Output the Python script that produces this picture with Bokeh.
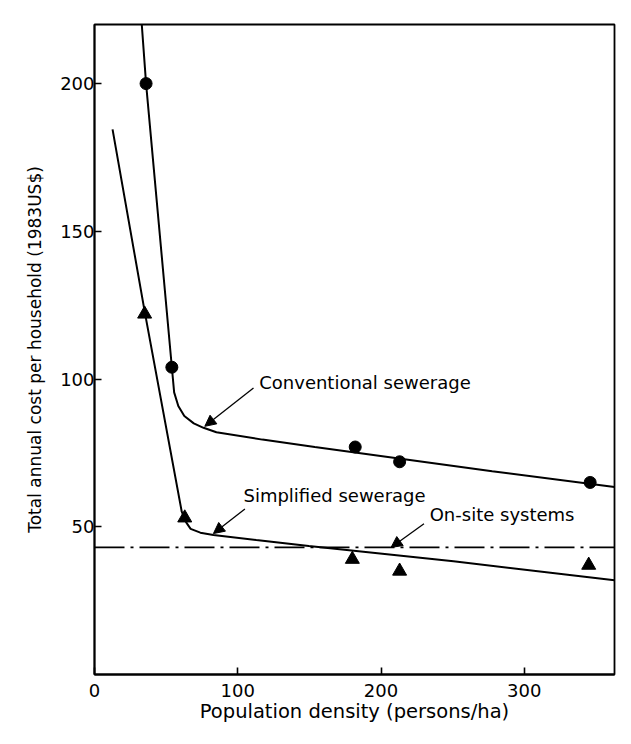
from bokeh.plotting import figure
from bokeh.models import Range1d, FixedTicker, Label, Arrow, NormalHead
from bokeh.embed import file_html
from bokeh.resources import INLINE

# ---- data ----
density_ticks = [0, 100, 200, 300]
cost_ticks = [50, 100, 150, 200]

# observed points
conv_obs_density = [36, 54, 182, 213, 346]
conv_obs_cost = [200, 104, 77, 72, 65]

simp_obs_density = [35, 63, 180, 213, 345]
simp_obs_cost = [122, 53, 39, 35, 37]

# fitted curves
conv_curve_density = [33, 36, 54, 55.6, 58.5, 62.7, 69.3, 76.1, 85.1, 117.2, 153.8, 277.6, 363]
conv_curve_cost = [220, 200, 104, 95.5, 90.9, 87.5, 85.0, 83.5, 82.0, 79.5, 77.0, 68.8, 63.5]

simp_curve_density = [12.6, 35.2, 60.9, 64.0, 67.1, 73.9, 83.0, 112.9, 149.6, 250.6, 363]
simp_curve_cost = [184.5, 122.4, 55.1, 51.5, 49.3, 48.0, 47.2, 45.5, 43.5, 38.3, 31.9]

onsite_density = [0, 363]
onsite_cost = [43, 43]

series_labels = ["Conventional sewerage", "Simplified sewerage", "On-site systems"]

FONT = "DejaVu Sans"

p = figure(frame_width=520, frame_height=650,
           x_range=Range1d(0, 363), y_range=Range1d(0, 220),
           output_backend="svg", toolbar_location=None,
           min_border_left=94, min_border_right=9, min_border_top=24, min_border_bottom=58)

p.xgrid.visible = False
p.ygrid.visible = False
p.outline_line_color = "black"
p.outline_line_width = 1.8
p.outline_line_alpha = 1.0
p.background_fill_color = "white"
p.border_fill_color = "white"

for ax in (p.xaxis[0], p.yaxis[0]):
    ax.axis_line_width = 1.8
    ax.axis_line_color = "black"
    ax.major_tick_line_color = "black"
    ax.major_tick_line_width = 1.6
    ax.major_tick_in = 7
    ax.major_tick_out = 0
    ax.minor_tick_line_color = None
    ax.major_label_text_font = FONT
    ax.major_label_text_font_size = "18px"
    ax.major_label_text_color = "black"
    ax.axis_label_text_font = FONT
    ax.axis_label_text_font_style = "normal"
    ax.axis_label_text_color = "black"

p.xaxis[0].ticker = FixedTicker(ticks=density_ticks)
p.yaxis[0].ticker = FixedTicker(ticks=cost_ticks)
p.xaxis[0].axis_label = "Population density (persons/ha)"
p.yaxis[0].axis_label = "Total annual cost per household (1983US$)"
p.xaxis[0].axis_label_text_font_size = "19.5px"
p.yaxis[0].axis_label_text_font_size = "17px"
p.xaxis[0].major_label_standoff = 9
p.xaxis[0].axis_label_standoff = 0
p.yaxis[0].major_label_standoff = 0
p.yaxis[0].axis_label_standoff = 12

# curves
p.line(conv_curve_density, conv_curve_cost, line_color="black", line_width=2)
p.line(simp_curve_density, simp_curve_cost, line_color="black", line_width=2)
p.line(onsite_density, onsite_cost, line_color="black", line_width=1.8, line_dash="30 6 3 6")

# observed markers
p.scatter(conv_obs_density, conv_obs_cost, marker="circle", size=12,
          fill_color="black", line_color="black")
p.scatter(simp_obs_density, simp_obs_cost, marker="triangle", size=14,
          fill_color="black", line_color="black")

# annotations
label_pos = [(115, 99), (104, 60.5), (234, 54)]
arrow_pos = [((111, 97), (77, 84)), ((105, 56), (83, 47.7)), ((230, 51), (207, 43))]
for txt, (lx, ly), ((x0, y0), (x1, y1)) in zip(series_labels, label_pos, arrow_pos):
    p.add_layout(Label(x=lx, y=ly, text=txt, text_font=FONT, text_font_size="18px",
                       text_baseline="middle", text_align="left", text_color="black"))
    p.add_layout(Arrow(x_start=x0, y_start=y0, x_end=x1, y_end=y1,
                       line_color="black", line_width=1.3,
                       end=NormalHead(size=11, fill_color="black", line_color="black")))

open("out.html", "w").write(file_html(p, INLINE))
